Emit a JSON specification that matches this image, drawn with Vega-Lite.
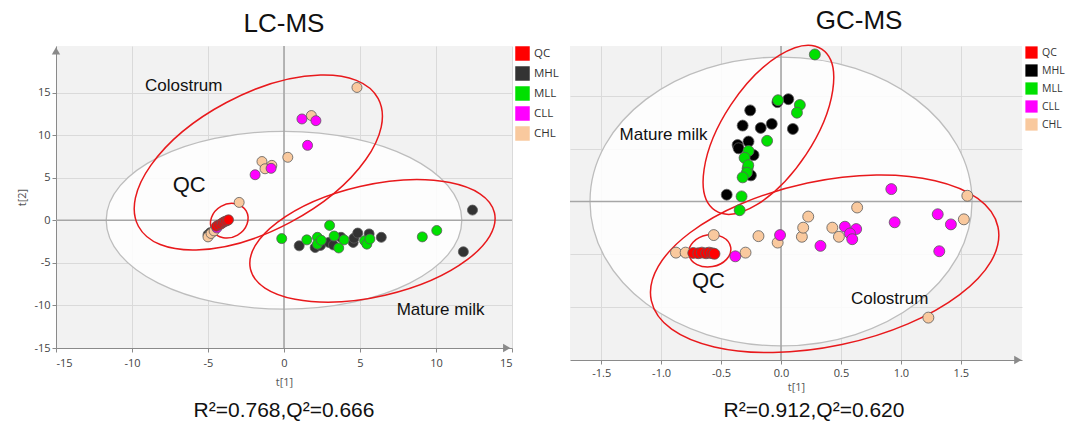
{
  "$schema": "https://vega.github.io/schema/vega-lite/v6.json",
  "padding": {"left": 16, "top": 8, "right": 2, "bottom": 0},
  "background": "white",
  "datasets": {
    "lc": [
      {"g":"MHL","x":-5.0,"y":-1.7},{"g":"MHL","x":-4.85,"y":-1.45},{"g":"MHL","x":1.0,"y":-3.0},{"g":"MHL","x":2.05,"y":-3.2},{"g":"MHL","x":2.4,"y":-2.95},{"g":"MHL","x":2.95,"y":-2.6},{"g":"MHL","x":3.25,"y":-2.9},{"g":"MHL","x":3.75,"y":-2.0},{"g":"MHL","x":4.55,"y":-2.6},{"g":"MHL","x":4.6,"y":-2.1},{"g":"MHL","x":4.85,"y":-1.5},{"g":"MHL","x":5.6,"y":-1.6},{"g":"MHL","x":6.4,"y":-2.0},{"g":"MHL","x":11.8,"y":-3.7},{"g":"MHL","x":12.4,"y":1.2},
      {"g":"MLL","x":-0.15,"y":-2.15},{"g":"MLL","x":1.5,"y":-2.3},{"g":"MLL","x":2.2,"y":-2.0},{"g":"MLL","x":2.2,"y":-2.8},{"g":"MLL","x":2.45,"y":-2.35},{"g":"MLL","x":3.0,"y":-0.6},{"g":"MLL","x":3.3,"y":-1.85},{"g":"MLL","x":3.95,"y":-2.3},{"g":"MLL","x":3.6,"y":-3.25},{"g":"MLL","x":5.3,"y":-2.4},{"g":"MLL","x":5.45,"y":-2.8},{"g":"MLL","x":5.65,"y":-2.2},{"g":"MLL","x":9.1,"y":-1.95},{"g":"MLL","x":10.05,"y":-1.2},
      {"g":"CHL","x":4.8,"y":15.6},{"g":"CHL","x":1.8,"y":12.3},{"g":"CHL","x":0.25,"y":7.4},{"g":"CHL","x":-1.45,"y":6.9},{"g":"CHL","x":-0.8,"y":6.45},{"g":"CHL","x":-1.25,"y":6.05},{"g":"CHL","x":-2.95,"y":2.1},{"g":"CHL","x":-5.0,"y":-1.95},{"g":"CHL","x":-4.8,"y":-1.55},{"g":"CHL","x":-4.6,"y":-1.25},
      {"g":"CLL","x":1.18,"y":11.9},{"g":"CLL","x":2.1,"y":11.7},{"g":"CLL","x":1.55,"y":8.8},{"g":"CLL","x":-1.9,"y":5.35},{"g":"CLL","x":-0.85,"y":6.1},{"g":"CLL","x":-4.42,"y":-0.9},
      {"g":"QC","x":-4.45,"y":-0.7},{"g":"QC","x":-4.3,"y":-0.55},{"g":"QC","x":-4.15,"y":-0.45},{"g":"QC","x":-4.05,"y":-0.3},{"g":"QC","x":-3.95,"y":-0.2},{"g":"QC","x":-3.85,"y":-0.1},{"g":"QC","x":-3.75,"y":-0.05},{"g":"QC","x":-3.65,"y":0.05}
    ],
    "gc": [
      {"g":"MHL","x":0.061,"y":0.968},{"g":"MHL","x":-0.03,"y":0.94},{"g":"MHL","x":-0.257,"y":0.862},{"g":"MHL","x":-0.32,"y":0.718},{"g":"MHL","x":-0.169,"y":0.696},{"g":"MHL","x":-0.077,"y":0.734},{"g":"MHL","x":0.099,"y":0.686},{"g":"MHL","x":-0.271,"y":0.567},{"g":"MHL","x":-0.362,"y":0.535},{"g":"MHL","x":-0.354,"y":0.503},{"g":"MHL","x":-0.229,"y":0.439},{"g":"MHL","x":-0.251,"y":0.247},{"g":"MHL","x":-0.453,"y":0.064},
      {"g":"MLL","x":0.282,"y":1.391},{"g":"MLL","x":-0.025,"y":0.958},{"g":"MLL","x":0.157,"y":0.913},{"g":"MLL","x":0.133,"y":0.84},{"g":"MLL","x":-0.116,"y":0.574},{"g":"MLL","x":-0.271,"y":0.478},{"g":"MLL","x":-0.304,"y":0.413},{"g":"MLL","x":-0.279,"y":0.311},{"g":"MLL","x":-0.273,"y":0.343},{"g":"MLL","x":-0.285,"y":0.272},{"g":"MLL","x":-0.32,"y":0.228},{"g":"MLL","x":-0.329,"y":0.048},{"g":"MLL","x":-0.345,"y":-0.083},
      {"g":"CHL","x":-0.561,"y":-0.318},{"g":"CHL","x":-0.876,"y":-0.484},{"g":"CHL","x":-0.796,"y":-0.484},{"g":"CHL","x":-0.296,"y":-0.484},{"g":"CHL","x":-0.188,"y":-0.328},{"g":"CHL","x":-0.028,"y":-0.389},{"g":"CHL","x":0.174,"y":-0.334},{"g":"CHL","x":0.185,"y":-0.248},{"g":"CHL","x":0.227,"y":-0.143},{"g":"CHL","x":0.635,"y":-0.057},{"g":"CHL","x":0.428,"y":-0.248},{"g":"CHL","x":0.483,"y":-0.334},{"g":"CHL","x":1.525,"y":-0.169},{"g":"CHL","x":1.554,"y":0.054},{"g":"CHL","x":1.229,"y":-1.099},
      {"g":"CLL","x":-0.381,"y":-0.519},{"g":"CLL","x":-0.008,"y":-0.318},{"g":"CLL","x":0.329,"y":-0.42},{"g":"CLL","x":0.533,"y":-0.239},{"g":"CLL","x":0.627,"y":-0.261},{"g":"CLL","x":0.575,"y":-0.303},{"g":"CLL","x":0.594,"y":-0.357},{"g":"CLL","x":0.948,"y":-0.197},{"g":"CLL","x":1.307,"y":-0.121},{"g":"CLL","x":1.417,"y":-0.217},{"g":"CLL","x":1.32,"y":-0.471},{"g":"CLL","x":0.92,"y":0.117},
      {"g":"QC","x":-0.732,"y":-0.487},{"g":"QC","x":-0.69,"y":-0.49},{"g":"QC","x":-0.66,"y":-0.484},{"g":"QC","x":-0.625,"y":-0.49},{"g":"QC","x":-0.6,"y":-0.484},{"g":"QC","x":-0.575,"y":-0.49},{"g":"QC","x":-0.555,"y":-0.495}
    ],
    "ell": [
      {"id":"lc_gray","x":0,"y":0},
      {"id":"lc_col","x":-1.69,"y":6.79},
      {"id":"lc_mat","x":5.82,"y":-2.42},
      {"id":"lc_qc","x":-3.6,"y":-0.05},
      {"id":"gc_gray","x":0,"y":0},
      {"id":"gc_mat","x":-0.105,"y":0.678},
      {"id":"gc_col","x":0.364,"y":-0.59},
      {"id":"gc_qc","x":-0.594,"y":-0.467}
    ],
    "ann": [
      {"panel":"lc","label":"Colostrum","x":-6.6,"y":15.8},
      {"panel":"lc","label":"QC","x":-6.24,"y":4.1},
      {"panel":"lc","label":"Mature milk","x":10.3,"y":-10.5},
      {"panel":"gc","label":"Mature milk","x":-0.98,"y":0.625},
      {"panel":"gc","label":"QC","x":-0.605,"y":-0.756},
      {"panel":"gc","label":"Colostrum","x":0.906,"y":-0.927}
    ]
  },
  "hconcat": [
    {
      "title": {"text": "LC-MS", "fontSize": 26, "offset": 8, "anchor": "middle", "frame": "bounds", "dx": -4},
      "vconcat": [
        {
          "width": 456, "height": 302,
          "title": {"text": "R²=0.768,Q²=0.666", "orient": "bottom", "fontSize": 21, "offset": 13, "anchor": "middle", "frame": "group"},
          "layer": [
            {"data": {"name": "ell"}, "transform": [{"filter": "datum.id === 'lc_gray'"}],
             "mark": {"type": "point", "shape": "M -1 0 C -1 -0.2762 -0.5523 -0.5 0 -0.5 C 0.5523 -0.5 1 -0.2762 1 0 C 1 0.2762 0.5523 0.5 0 0.5 C -0.5523 0.5 -1 0.2762 -1 0 Z", "size": 126451, "angle": 0, "filled": true, "fill": "white", "fillOpacity": 0.85, "stroke": "#bdbdbd", "strokeWidth": 1.3, "opacity": 1},
             "encoding": {"x": {"field": "x", "type": "quantitative", "title": "t[1]", "scale": {"domain": [-15, 15], "nice": false, "zero": false}},
                          "y": {"field": "y", "type": "quantitative", "title": "t[2]", "scale": {"domain": [-15, 20.47], "nice": false, "zero": false}}}},
            {"data": {"values": [{}]}, "mark": {"type": "rule", "color": "#a6a6a6", "strokeWidth": 1.6},
             "encoding": {"x": {"datum": 0, "type": "quantitative"}}},
            {"data": {"values": [{}]}, "mark": {"type": "rule", "color": "#a6a6a6", "strokeWidth": 1.6},
             "encoding": {"y": {"datum": 0, "type": "quantitative"}}},
            {"data": {"values": [{}]}, "mark": {"type": "point", "shape": "triangle-up", "size": 70, "filled": true, "color": "#8a8a8a", "opacity": 1},
             "encoding": {"x": {"datum": -15, "type": "quantitative"}, "y": {"datum": 19.9, "type": "quantitative"}}},
            {"data": {"values": [{}]}, "mark": {"type": "point", "shape": "triangle-right", "size": 70, "filled": true, "color": "#8a8a8a", "opacity": 1},
             "encoding": {"x": {"datum": 14.65, "type": "quantitative"}, "y": {"datum": -15, "type": "quantitative"}}},
            {"data": {"name": "ell"}, "transform": [{"filter": "datum.id === 'lc_col'"}],
             "mark": {"type": "point", "shape": "M -1 0 C -1 -0.2762 -0.5523 -0.5 0 -0.5 C 0.5523 -0.5 1 -0.2762 1 0 C 1 0.2762 0.5523 0.5 0 0.5 C -0.5523 0.5 -1 0.2762 -1 0 Z", "size": 73767, "angle": -28, "filled": false, "stroke": "#e8191c", "strokeWidth": 1.5, "opacity": 1},
             "encoding": {"x": {"field": "x", "type": "quantitative", "title": "t[1]"}, "y": {"field": "y", "type": "quantitative", "title": "t[2]"}}},
            {"data": {"name": "ell"}, "transform": [{"filter": "datum.id === 'lc_mat'"}],
             "mark": {"type": "point", "shape": "M -1 0 C -1 -0.2463 -0.5523 -0.446 0 -0.446 C 0.5523 -0.446 1 -0.2463 1 0 C 1 0.2463 0.5523 0.446 0 0.446 C -0.5523 0.446 -1 0.2463 -1 0 Z", "size": 62700, "angle": -13, "filled": false, "stroke": "#e8191c", "strokeWidth": 1.5, "opacity": 1},
             "encoding": {"x": {"field": "x", "type": "quantitative", "title": "t[1]"}, "y": {"field": "y", "type": "quantitative", "title": "t[2]"}}},
            {"data": {"name": "ell"}, "transform": [{"filter": "datum.id === 'lc_qc'"}],
             "mark": {"type": "point", "shape": "M -1 0 C -1 -0.4695 -0.5523 -0.85 0 -0.85 C 0.5523 -0.85 1 -0.4695 1 0 C 1 0.4695 0.5523 0.85 0 0.85 C -0.5523 0.85 -1 0.4695 -1 0 Z", "size": 1521, "angle": -30, "filled": false, "stroke": "#e8191c", "strokeWidth": 1.5, "opacity": 1},
             "encoding": {"x": {"field": "x", "type": "quantitative", "title": "t[1]"}, "y": {"field": "y", "type": "quantitative", "title": "t[2]"}}},
            {"data": {"name": "lc"},
             "mark": {"type": "point", "filled": true, "size": 100, "opacity": 1, "stroke": "#5a5a5a", "strokeWidth": 0.8},
             "encoding": {
               "x": {"field": "x", "type": "quantitative", "title": "t[1]", "scale": {"domain": [-15, 15], "nice": false, "zero": false},
                     "axis": {"values": [-15, -10, -5, 0, 5, 10, 15], "grid": true, "labelPadding": 5, "titlePadding": 8, "labelExpr": "replace(datum.label, '−', '-')"}},
               "y": {"field": "y", "type": "quantitative", "title": "t[2]", "scale": {"domain": [-15, 20.47], "nice": false, "zero": false},
                     "axis": {"values": [-15, -10, -5, 0, 5, 10, 15], "grid": true, "labelExpr": "replace(datum.label, '−', '-')"}},
               "color": {"field": "g", "type": "nominal",
                         "scale": {"domain": ["QC", "MHL", "MLL", "CLL", "CHL"], "range": ["#ff0000", "#333333", "#00e000", "#ff00ff", "#f9c99e"]},
                         "legend": {"title": null, "orient": "right", "offset": 2, "symbolType": "square", "symbolSize": 210, "symbolStrokeWidth": 0, "symbolOpacity": 1, "rowPadding": 5, "labelFontSize": 11.5}}
             }},
            {"data": {"name": "ann"}, "transform": [{"filter": "datum.panel === 'lc' && datum.label !== 'QC'"}],
             "mark": {"type": "text", "font": "Liberation Sans", "fontSize": 17, "color": "#111111", "align": "center", "baseline": "middle"},
             "encoding": {"x": {"field": "x", "type": "quantitative", "title": "t[1]"}, "y": {"field": "y", "type": "quantitative", "title": "t[2]"}, "text": {"field": "label"}}},
            {"data": {"name": "ann"}, "transform": [{"filter": "datum.panel === 'lc' && datum.label === 'QC'"}],
             "mark": {"type": "text", "font": "Liberation Sans", "fontSize": 22, "color": "#111111", "align": "center", "baseline": "middle"},
             "encoding": {"x": {"field": "x", "type": "quantitative", "title": "t[1]"}, "y": {"field": "y", "type": "quantitative", "title": "t[2]"}, "text": {"field": "label"}}}
          ]
        }
      ]
    },
    {
      "title": {"text": "GC-MS", "fontSize": 26, "offset": 8, "anchor": "middle", "frame": "bounds", "dx": 42},
      "vconcat": [
        {
          "width": 452, "height": 314,
          "title": {"text": "R²=0.912,Q²=0.620", "orient": "bottom", "fontSize": 21, "offset": 8, "anchor": "middle", "frame": "group", "dx": 18},
          "layer": [
            {"data": {"name": "ell"}, "transform": [{"filter": "datum.id === 'gc_gray'"}],
             "mark": {"type": "point", "shape": "M -1 0 C -1 -0.4175 -0.5523 -0.756 0 -0.756 C 0.5523 -0.756 1 -0.4175 1 0 C 1 0.4175 0.5523 0.756 0 0.756 C -0.5523 0.756 -1 0.4175 -1 0 Z", "size": 145924, "angle": 0, "filled": true, "fill": "white", "fillOpacity": 0.85, "stroke": "#bdbdbd", "strokeWidth": 1.3, "opacity": 1},
             "encoding": {"x": {"field": "x", "type": "quantitative", "title": "t[1]", "scale": {"domain": [-1.76, 2.01], "nice": false, "zero": false}},
                          "y": {"field": "y", "type": "quantitative", "title": null, "scale": {"domain": [-1.5, 1.471], "nice": false, "zero": false}}}},
            {"data": {"values": [{}]}, "mark": {"type": "rule", "color": "#a6a6a6", "strokeWidth": 1.6},
             "encoding": {"x": {"datum": 0, "type": "quantitative"}}},
            {"data": {"values": [{}]}, "mark": {"type": "rule", "color": "#a6a6a6", "strokeWidth": 1.6},
             "encoding": {"y": {"datum": 0, "type": "quantitative"}}},
            {"data": {"values": [{}]}, "mark": {"type": "point", "shape": "triangle-right", "size": 70, "filled": true, "color": "#8a8a8a", "opacity": 1},
             "encoding": {"x": {"datum": 1.975, "type": "quantitative"}, "y": {"datum": -1.5, "type": "quantitative"}}},
            {"data": {"name": "ell"}, "transform": [{"filter": "datum.id === 'gc_mat'"}],
             "mark": {"type": "point", "shape": "M -1 0 C -1 -0.2574 -0.5523 -0.466 0 -0.466 C 0.5523 -0.466 1 -0.2574 1 0 C 1 0.2574 0.5523 0.466 0 0.466 C -0.5523 0.466 -1 0.2574 -1 0 Z", "size": 37404, "angle": -56.5, "filled": false, "stroke": "#e8191c", "strokeWidth": 1.5, "opacity": 1},
             "encoding": {"x": {"field": "x", "type": "quantitative", "title": "t[1]"}, "y": {"field": "y", "type": "quantitative", "title": null}}},
            {"data": {"name": "ell"}, "transform": [{"filter": "datum.id === 'gc_col'"}],
             "mark": {"type": "point", "shape": "M -1 0 C -1 -0.2574 -0.5523 -0.466 0 -0.466 C 0.5523 -0.466 1 -0.2574 1 0 C 1 0.2574 0.5523 0.466 0 0.466 C -0.5523 0.466 -1 0.2574 -1 0 Z", "size": 125599, "angle": -12, "filled": false, "stroke": "#e8191c", "strokeWidth": 1.5, "opacity": 1},
             "encoding": {"x": {"field": "x", "type": "quantitative", "title": "t[1]"}, "y": {"field": "y", "type": "quantitative", "title": null}}},
            {"data": {"name": "ell"}, "transform": [{"filter": "datum.id === 'gc_qc'"}],
             "mark": {"type": "point", "shape": "M -1 0 C -1 -0.4175 -0.5523 -0.756 0 -0.756 C 0.5523 -0.756 1 -0.4175 1 0 C 1 0.4175 0.5523 0.756 0 0.756 C -0.5523 0.756 -1 0.4175 -1 0 Z", "size": 1798, "angle": -10, "filled": false, "stroke": "#e8191c", "strokeWidth": 1.5, "opacity": 1},
             "encoding": {"x": {"field": "x", "type": "quantitative", "title": "t[1]"}, "y": {"field": "y", "type": "quantitative", "title": null}}},
            {"data": {"name": "gc"},
             "mark": {"type": "point", "filled": true, "size": 120, "opacity": 1, "stroke": "#5a5a5a", "strokeWidth": 0.8},
             "encoding": {
               "x": {"field": "x", "type": "quantitative", "title": "t[1]", "scale": {"domain": [-1.76, 2.01], "nice": false, "zero": false},
                     "axis": {"values": [-1.5, -1, -0.5, 0, 0.5, 1, 1.5], "grid": true, "labelPadding": 3, "titlePadding": 3, "labelExpr": "replace(datum.label, '−', '-')"}},
               "y": {"field": "y", "type": "quantitative", "title": null, "scale": {"domain": [-1.5, 1.471], "nice": false, "zero": false},
                     "axis": {"values": [-1, -0.5, 0.5, 1], "grid": true, "labels": false, "ticks": false, "domain": false, "title": null}},
               "color": {"field": "g", "type": "nominal",
                         "scale": {"domain": ["QC", "MHL", "MLL", "CLL", "CHL"], "range": ["#ff0000", "#000000", "#00e000", "#ff00ff", "#f9c99e"]},
                         "legend": {"title": null, "orient": "right", "offset": 2, "symbolType": "square", "symbolSize": 150, "symbolStrokeWidth": 0, "symbolOpacity": 1, "rowPadding": 5, "labelFontSize": 10.5}}
             }},
            {"data": {"name": "ann"}, "transform": [{"filter": "datum.panel === 'gc' && datum.label !== 'QC'"}],
             "mark": {"type": "text", "font": "Liberation Sans", "fontSize": 17, "color": "#111111", "align": "center", "baseline": "middle"},
             "encoding": {"x": {"field": "x", "type": "quantitative", "title": "t[1]"}, "y": {"field": "y", "type": "quantitative", "title": null}, "text": {"field": "label"}}},
            {"data": {"name": "ann"}, "transform": [{"filter": "datum.panel === 'gc' && datum.label === 'QC'"}],
             "mark": {"type": "text", "font": "Liberation Sans", "fontSize": 22, "color": "#111111", "align": "center", "baseline": "middle"},
             "encoding": {"x": {"field": "x", "type": "quantitative", "title": "t[1]"}, "y": {"field": "y", "type": "quantitative", "title": null}, "text": {"field": "label"}}}
          ]
        }
      ]
    }
  ],
  "spacing": 10,
  "resolve": {"scale": {"color": "independent"}, "legend": {"color": "independent"}},
  "config": {
    "view": {"fill": "#f2f2f2", "stroke": null},
    "font": "Open Sans",
    "axis": {"labelFont": "Open Sans", "labelFontSize": 11, "labelColor": "#444444", "titleFont": "Open Sans", "titleFontSize": 11, "titleFontWeight": "normal", "titleColor": "#555555", "domainColor": "#8a8a8a", "tickColor": "#8a8a8a", "gridColor": "#dadada", "tickSize": 4, "labelPadding": 2, "titlePadding": 6},
    "legend": {"labelFont": "Open Sans", "labelColor": "#333333"},
    "title": {"font": "Liberation Sans", "fontWeight": "normal", "color": "#111111"}
  }
}
